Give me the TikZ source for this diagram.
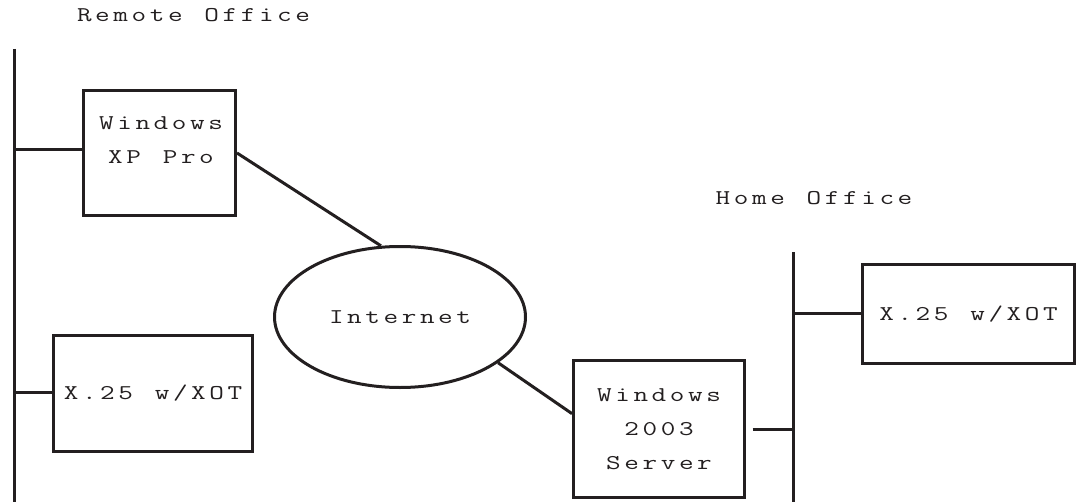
\documentclass[tikz,border=0pt]{standalone}
\usepackage{graphicx}
\usetikzlibrary{shapes.geometric}
\definecolor{ink}{RGB}{35,31,32}
% each character in a box of fixed width, widened a little
\ExplSyntaxOn
\NewDocumentCommand\spaced{m}{\str_map_inline:nn{#1}{\makebox[13.65pt]{\scalebox{1.35}[1]{##1}}}}
\ExplSyntaxOff
\tikzset{
  net/.style={draw=ink,line width=2.25pt},
  lbl/.style={text=ink,inner sep=0pt,align=center,
    font=\ttfamily\fontsize{15.75pt}{25.5pt}\selectfont},
  box/.style={net,lbl,rectangle},
  cloud/.style={net,lbl,ellipse,inner sep=0pt}
}
\begin{document}
\begin{tikzpicture}[x=0.75pt,y=-0.75pt]
\useasboundingbox (0,0) rectangle (1080,502);

\node[lbl] (remote) at (193.5,15) {\spaced{Remote Office}};
\node[lbl] (home) at (814,198) {\spaced{Home Office}};

\node[box,minimum width=114pt,minimum height=93.75pt] (xp) at (159.5,153) {};
\node[lbl] (xptext) at (161,140) {\spaced{Windows}\\\spaced{XP Pro}};
\node[box,minimum width=149.25pt,minimum height=87pt] (x25l) at (153,393.5) {\spaced{X.25 w/XOT}};
\node[cloud,minimum width=188.25pt,minimum height=105.75pt] (inet) at (400,317) {\spaced{Internet}};
\node[box,minimum width=128.25pt,minimum height=102.75pt] (srv) at (659,429) {\spaced{Windows}\\\spaced{2003}\\\spaced{Server}};
\node[box,minimum width=159pt,minimum height=74.25pt] (x25r) at (968.5,314) {\spaced{X.25 w/XOT}};

% LAN segments
\coordinate (rtop) at (14,49);
\coordinate (rbot) at (14,502);
\coordinate (htop) at (793,252);
\coordinate (hbot) at (793,502);
\draw[net] (rtop) -- (rbot);
\draw[net] (htop) -- (hbot);

\coordinate (rb1) at (14,150);
\coordinate (rb2) at (14,392);
\coordinate (hb1) at (793,313);
\draw[net] (rb1) -- (rb1 -| xp.west);
\draw[net] (rb2) -- (rb2 -| x25l.west);
\draw[net] (hb1) -- (hb1 -| x25r.west);
\draw[net] ([xshift=5]srv.east) -- (srv.east -| htop);

\draw[net] (xp.east) -- (inet.105);
\draw[net] (inet.-25) -- (srv.170);

\end{tikzpicture}
\end{document}
